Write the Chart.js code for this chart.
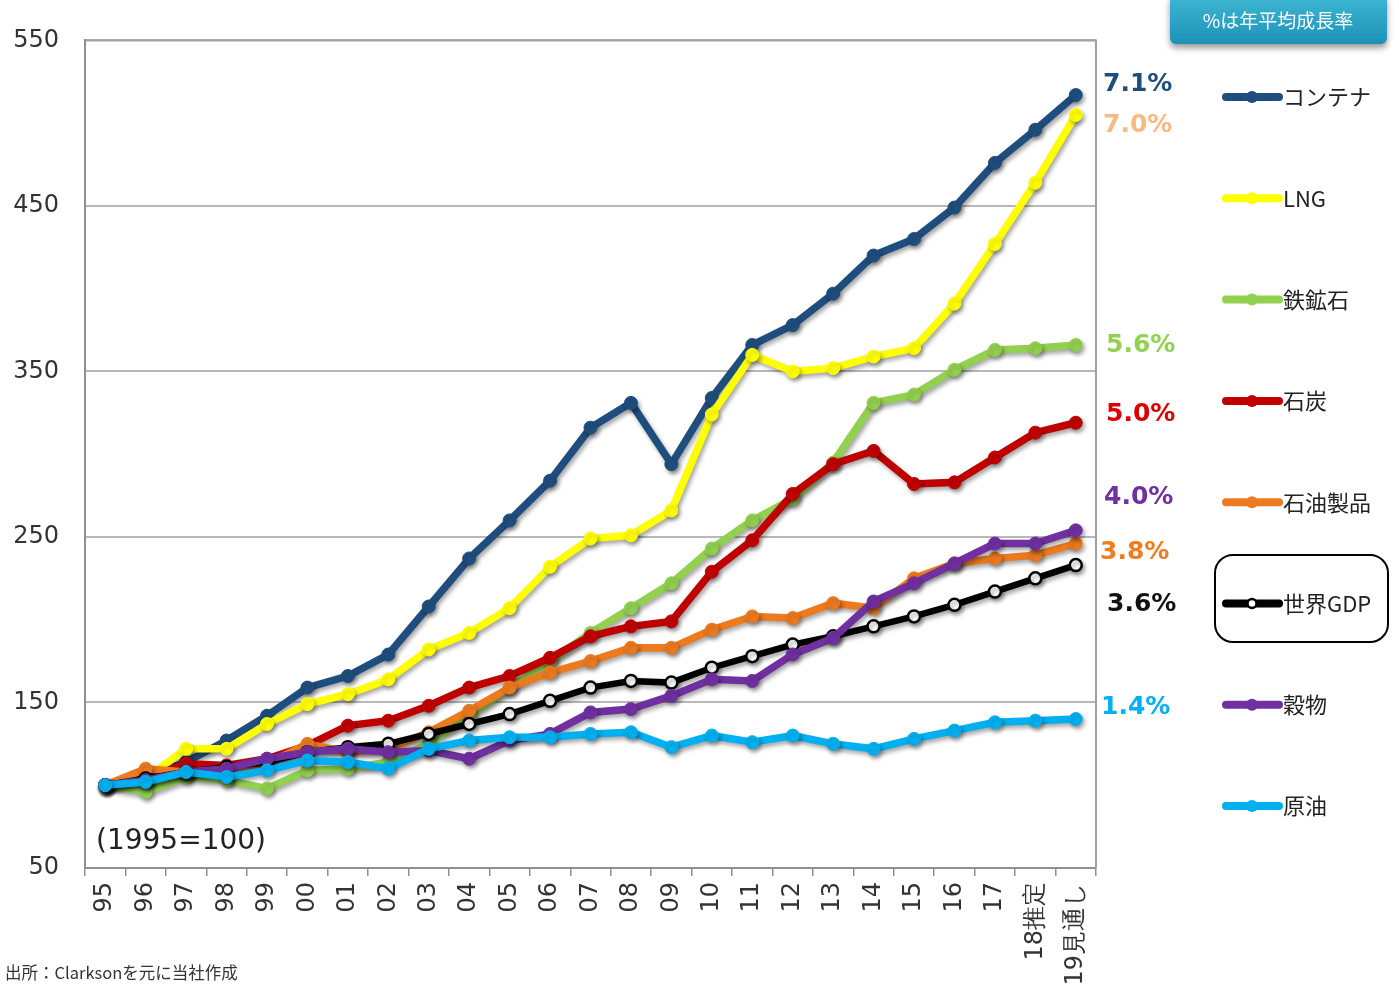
<!DOCTYPE html>
<html lang="ja">
<head>
<meta charset="utf-8">
<title>海上荷動き量の推移</title>
<script src="https://cdn.jsdelivr.net/npm/chart.js@4.4.1/dist/chart.umd.min.js"></script>
<style>
  html, body { margin: 0; padding: 0; background: #fff; }
  #wrap { position: relative; width: 1399px; height: 990px; }
</style>
</head>
<body>
<div id="wrap"><canvas id="trade-chart" width="1399" height="990"></canvas></div>
<script>
// --- DATA (1995 = 100) ---
const years = ['95', '96', '97', '98', '99', '00', '01', '02', '03', '04', '05', '06', '07', '08', '09', '10', '11', '12', '13', '14', '15', '16', '17', '18推定', '19見通し'];

const container = [100, 105, 114, 127, 142, 159, 166, 179, 208, 237, 260, 284, 316, 331, 294, 334, 366, 378, 397, 420, 430, 449, 476, 496, 517];
const lng       = [100, 104, 122, 122, 137, 149, 155, 164, 182, 192, 207, 232, 249, 251, 266, 324, 360, 350, 352, 359, 364, 391, 427, 464, 505];
const ironOre   = [100, 96, 105, 103, 98, 109, 110, 114, 125, 142, 159, 175, 192, 207, 222, 243, 260, 273, 295, 331, 336, 351, 363, 364, 366];
const coal      = [100, 104, 113, 112, 116, 124, 136, 139, 148, 159, 166, 177, 190, 196, 199, 229, 248, 276, 294, 302, 282, 283, 298, 313, 319];
const oilProducts = [100, 110, 108, 106, 113, 125, 120, 122, 132, 145, 159, 168, 175, 183, 183, 194, 202, 201, 210, 207, 225, 234, 237, 239, 246];
const worldGdp  = [100, 104, 108, 111, 114, 120, 123, 125, 131, 137, 143, 151, 159, 163, 162, 171, 178, 185, 190, 196, 202, 209, 217, 225, 233];
const grain     = [100, 103, 108, 110, 116, 120, 122, 120, 121, 116, 127, 131, 144, 146, 154, 164, 163, 179, 189, 211, 222, 234, 246, 246, 254];
const crudeOil  = [100, 102, 108, 105, 109, 115, 114, 110, 122, 127, 129, 129, 131, 132, 123, 130, 126, 130, 125, 122, 128, 133, 138, 139, 140];

const seriesNames = ['コンテナ', 'LNG', '鉄鉱石', '石炭', '石油製品', '世界GDP', '穀物', '原油'];
const seriesValues = [container, lng, ironOre, coal, oilProducts, worldGdp, grain, crudeOil];

// annual average growth rates, and the y value each label sits at
const growthRates = ['7.1%', '7.0%', '5.6%', '5.0%', '3.8%', '3.6%', '4.0%', '1.4%'];
const growthLabelAt = [523.5, 498.8, 365.7, 324.1, 240.4, 209.0, 274.1, 147.0];

const yTicks = [50, 150, 250, 350, 450, 550];

// --- STYLES ---
const lineColors = ['#1f4e7e', '#ffff00', '#92d050', '#c00000', '#ec7a1f', '#000000', '#7030a0', '#00b0f0'];
const rateColors = ['#1f4e79', '#f8b985', '#92d050', '#dd0000', '#f07d1e', '#111111', '#7030a0', '#00b0f0'];
const rateX = [1103, 1103, 1106, 1106, 1100, 1107, 1104, 1101];
const TICK_FONT = { family: 'DejaVu Sans', size: 24 };
const JP_FONT = '"Noto Sans CJK JP", "Noto Sans", sans-serif';

const datasets = seriesValues.map((values, i) => {
  const isGdp = i === 5;
  return {
    label: seriesNames[i],
    data: values,
    borderColor: lineColors[i],
    backgroundColor: isGdp ? '#ffffff' : lineColors[i],
    pointBorderColor: lineColors[i],
    borderWidth: isGdp ? 6.5 : 7.5,
    pointRadius: isGdp ? 6 : 6.5,
    pointBorderWidth: isGdp ? 2.5 : 1,
    pointBackgroundColor: isGdp ? '#ffffff' : lineColors[i],
    tension: 0,
    // later series sit on top of earlier ones
    order: seriesValues.length - i
  };
});

// drop shadow under each line
const lineShadow = {
  id: 'lineShadow',
  beforeDatasetDraw(chart) {
    const ctx = chart.ctx;
    ctx.save();
    ctx.shadowColor = 'rgba(0, 0, 0, 0.35)';
    ctx.shadowBlur = 4;
    ctx.shadowOffsetX = 2;
    ctx.shadowOffsetY = 3;
  },
  afterDatasetDraw(chart) {
    chart.ctx.restore();
  }
};

// frame, base note, growth rates, legend, badge and source
const decorations = {
  id: 'decorations',
  beforeDatasetsDraw(chart) {
    const { ctx, chartArea: a } = chart;
    ctx.save();
    ctx.strokeStyle = '#a0a0a0';
    ctx.lineWidth = 2;
    ctx.beginPath();
    ctx.moveTo(a.left, a.top);
    ctx.lineTo(a.right, a.top);
    ctx.lineTo(a.right, a.bottom);
    ctx.stroke();
    ctx.restore();
  },
  afterDraw(chart) {
    const { ctx, chartArea: a } = chart;
    const yScale = chart.scales.y;
    ctx.save();

    ctx.fillStyle = '#222';
    ctx.font = '28px "DejaVu Sans"';
    ctx.textBaseline = 'middle';
    ctx.textAlign = 'left';
    ctx.fillText('(1995=100)', a.left + 11, 842);

    ctx.font = 'bold 25px "DejaVu Sans"';
    growthRates.forEach((txt, i) => {
      ctx.fillStyle = rateColors[i];
      ctx.fillText(txt, rateX[i], yScale.getPixelForValue(growthLabelAt[i]));
    });

    // legend
    const legendTop = 97, legendStep = 101.3;
    chart.data.datasets.forEach((ds, i) => {
      const y = legendTop + i * legendStep;
      ctx.strokeStyle = ds.borderColor;
      ctx.lineWidth = 8;
      ctx.lineCap = 'round';
      ctx.beginPath();
      ctx.moveTo(1226, y);
      ctx.lineTo(1279, y);
      ctx.stroke();
      ctx.beginPath();
      ctx.arc(1252, y, i === 5 ? 4.5 : 6, 0, Math.PI * 2);
      ctx.fillStyle = ds.pointBackgroundColor;
      ctx.fill();
      if (i === 5) {
        ctx.lineWidth = 2.5;
        ctx.strokeStyle = '#000';
        ctx.stroke();
      }
      ctx.fillStyle = '#222';
      ctx.font = '22px ' + JP_FONT;
      ctx.textAlign = 'left';
      ctx.fillText(ds.label, 1283, y);
    });

    // box round the world GDP entry
    ctx.lineWidth = 2;
    ctx.strokeStyle = '#000';
    ctx.beginPath();
    ctx.roundRect(1215, 555, 173, 87, 18);
    ctx.stroke();

    // badge
    ctx.save();
    ctx.shadowColor = 'rgba(0, 0, 0, 0.4)';
    ctx.shadowBlur = 6;
    ctx.shadowOffsetY = 4;
    const grad = ctx.createLinearGradient(0, 0, 0, 44);
    grad.addColorStop(0, '#3bb3d1');
    grad.addColorStop(1, '#1c93b6');
    ctx.fillStyle = grad;
    ctx.beginPath();
    ctx.roundRect(1170, -6, 217, 50, 6);
    ctx.fill();
    ctx.restore();
    ctx.fillStyle = '#ffffff';
    ctx.font = '19px ' + JP_FONT;
    ctx.textAlign = 'center';
    ctx.fillText('%は年平均成長率', 1278, 21);

    ctx.fillStyle = '#333';
    ctx.font = '16.5px ' + JP_FONT;
    ctx.textAlign = 'left';
    ctx.fillText('出所：Clarksonを元に当社作成', 5, 973);

    ctx.restore();
  }
};

new Chart(document.getElementById('trade-chart'), {
  type: 'line',
  data: { labels: years, datasets },
  options: {
    responsive: false,
    devicePixelRatio: 1,
    animation: false,
    layout: { padding: { top: 38, right: 303, left: 0, bottom: 0 } },
    plugins: { legend: { display: false }, tooltip: { enabled: false } },
    scales: {
      x: {
        offset: true,
        grid: { offset: true, drawOnChartArea: false, drawTicks: true, tickLength: 8, color: '#909090', lineWidth: 1.5 },
        border: { display: true, color: '#909090', width: 2 },
        ticks: { color: '#333', font: TICK_FONT, minRotation: 90, maxRotation: 90, padding: 6, autoSkip: false },
        afterFit(scale) { scale.height = 122; }
      },
      y: {
        min: 50,
        max: 550,
        afterBuildTicks(scale) { scale.ticks = yTicks.map(v => ({ value: v })); },
        grid: { color: '#b8b8b8', lineWidth: 2, drawTicks: false },
        border: { display: true, color: '#909090', width: 2 },
        ticks: { color: '#333', font: TICK_FONT, padding: 26 },
        afterFit(scale) { scale.width = 85; }
      }
    }
  },
  plugins: [lineShadow, decorations]
});
</script>
</body>
</html>
